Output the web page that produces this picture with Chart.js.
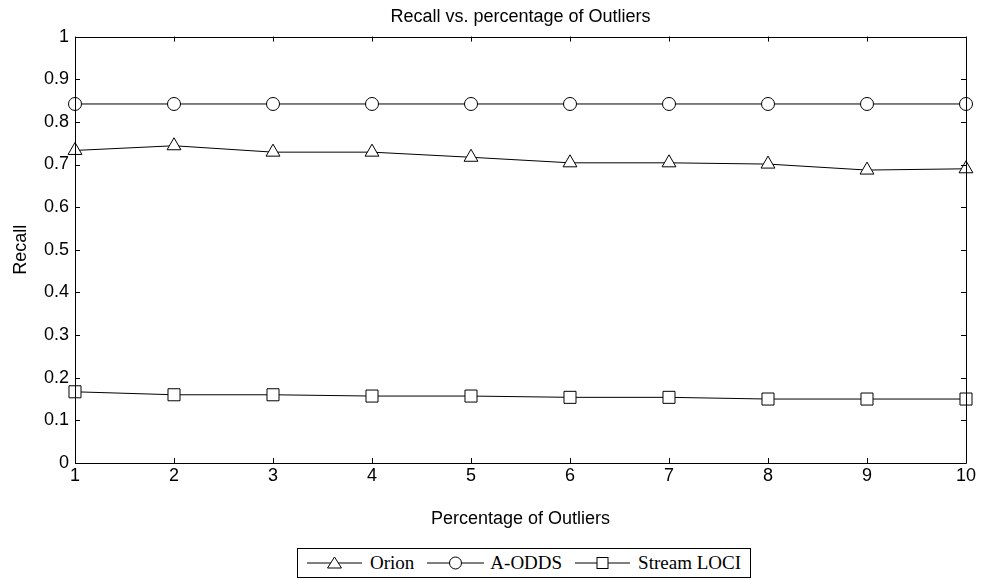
<!DOCTYPE html>
<html>
<head>
<meta charset="utf-8">
<script src="https://cdn.jsdelivr.net/npm/chart.js@4.4.0/dist/chart.umd.min.js"></script>
<style>
  html, body { margin: 0; padding: 0; background: #fff; }
  #wrap { position: relative; width: 981px; height: 581px; }
  #c { position: absolute; left: 0; top: 0; }
  #legend {
    position: absolute; left: 297px; top: 548px; height: 30px;
    border: 1px solid #000; box-sizing: border-box;
    display: flex; align-items: center; padding: 0 9px 0 9px;
    font-family: "Liberation Serif", "Times New Roman", serif; font-size: 19px; color: #000;
    background: #fff; white-space: nowrap;
  }
  #legend .item { display: flex; align-items: center; margin-right: 13px; }
  #legend .item:last-child { margin-right: 0; }
  #legend svg { margin-right: 8px; }
  #legend .item:nth-child(2) svg { margin-right: 6px; }
</style>
</head>
<body>
<div id="wrap">
  <canvas id="c" width="981" height="581"></canvas>
  <div id="legend"></div>
</div>
<script>
// ---- data ----
const xValues = [1, 2, 3, 4, 5, 6, 7, 8, 9, 10];
const orion = [0.733, 0.744, 0.729, 0.729, 0.717, 0.704, 0.704, 0.701, 0.687, 0.690];
const aOdds = [0.842, 0.842, 0.842, 0.842, 0.842, 0.842, 0.842, 0.842, 0.842, 0.842];
const streamLoci = [0.167, 0.160, 0.160, 0.157, 0.157, 0.154, 0.154, 0.150, 0.150, 0.150];
const seriesNames = ["Orion", "A-ODDS", "Stream LOCI"];
const yTicks = [0, 0.1, 0.2, 0.3, 0.4, 0.5, 0.6, 0.7, 0.8, 0.9, 1];
const chartTitle = "Recall vs. percentage of Outliers";
const xTitle = "Percentage of Outliers";
const yTitle = "Recall";

const sansFont = "'Liberation Sans', Arial, sans-serif";

function toPts(ys) { return xValues.map((x, i) => ({ x: x, y: ys[i] })); }

const markerStyles = ["triangle", "circle", "rect"];
const markerRadius = [8, 6.5, 8.5];
const allSeries = [orion, aOdds, streamLoci];

const datasets = allSeries.map((vals, i) => ({
  label: seriesNames[i],
  data: toPts(vals),
  borderColor: "#000",
  borderWidth: 1,
  backgroundColor: "#fff",
  pointStyle: markerStyles[i],
  pointRadius: markerRadius[i],
  pointHoverRadius: markerRadius[i],
  pointBorderColor: "#000",
  pointBackgroundColor: "#fff",
  pointBorderWidth: 1,
  tension: 0,
  fill: false,
  clip: false
}));

// inward tick marks + box, MATLAB style
const boxTicks = {
  id: "boxTicks",
  afterDatasetsDraw(chart) {
    const { ctx, chartArea: a, scales } = chart;
    const xs = scales.x, ys = scales.y;
    const L = 5;
    ctx.save();
    ctx.strokeStyle = "#000";
    ctx.lineWidth = 1;
    ctx.beginPath();
    xValues.forEach(v => {
      const px = Math.round(xs.getPixelForValue(v)) + 0.5;
      ctx.moveTo(px, a.bottom); ctx.lineTo(px, a.bottom - L);
      ctx.moveTo(px, a.top); ctx.lineTo(px, a.top + L);
    });
    yTicks.forEach(v => {
      const py = Math.round(ys.getPixelForValue(v)) + 0.5;
      ctx.moveTo(a.left, py); ctx.lineTo(a.left + L, py);
      ctx.moveTo(a.right, py); ctx.lineTo(a.right - L, py);
    });
    ctx.stroke();
    ctx.beginPath();
    ctx.rect(Math.round(a.left) + 0.5, Math.round(a.top) + 0.5,
             Math.round(a.right - a.left), Math.round(a.bottom - a.top));
    ctx.stroke();
    ctx.restore();
  }
};

new Chart(document.getElementById("c"), {
  type: "line",
  data: { datasets },
  plugins: [boxTicks],
  options: {
    responsive: false,
    animation: false,
    devicePixelRatio: 1,
    layout: { padding: { left: 0, right: 15, top: 0, bottom: 50 } },
    plugins: {
      legend: { display: false },
      tooltip: { enabled: false },
      title: {
        display: true,
        fullSize: false,
        text: chartTitle,
        color: "#000",
        font: { family: sansFont, size: 18, weight: "normal" },
        padding: { top: 6, bottom: 9 }
      }
    },
    scales: {
      x: {
        type: "linear",
        min: 1, max: 10,
        afterFit(s) { s.height = 68; },
        grid: { display: false, drawTicks: false },
        border: { display: false },
        ticks: {
          stepSize: 1, padding: 2, color: "#000",
          font: { family: sansFont, size: 18 },
          maxRotation: 0, autoSkip: false
        },
        title: {
          display: true, text: xTitle, color: "#000",
          font: { family: sansFont, size: 18 },
          padding: { top: 0, bottom: 1 }
        }
      },
      y: {
        type: "linear",
        min: 0, max: 1,
        afterFit(s) { s.width = 75; },
        afterBuildTicks(s) { s.ticks = yTicks.map(v => ({ value: v })); },
        grid: { display: false, drawTicks: false },
        border: { display: false },
        ticks: {
          padding: 6, color: "#000",
          font: { family: sansFont, size: 18 },
          callback: v => String(Math.round(v * 10) / 10)
        },
        title: {
          display: true, text: yTitle, color: "#000",
          font: { family: sansFont, size: 18 },
          padding: { top: 10, bottom: 0 }
        }
      }
    }
  }
});

// HTML legend with line+marker samples
function markerSvg(kind) {
  const w = kind === "circle" ? 57 : 55, h = 16, cx = w / 2, cy = h / 2;
  let m = "";
  if (kind === "triangle") m = `<polygon points="${cx},${cy-6} ${cx+7},${cy+5} ${cx-7},${cy+5}" fill="#fff" stroke="#000" stroke-width="1"/>`;
  else if (kind === "circle") m = `<circle cx="${cx}" cy="${cy}" r="6" fill="#fff" stroke="#000" stroke-width="1"/>`;
  else m = `<rect x="${cx-5.5}" y="${cy-5.5}" width="11" height="11" fill="#fff" stroke="#000" stroke-width="1"/>`;
  return `<svg width="${w}" height="${h}"><line x1="0" y1="${cy}" x2="${w}" y2="${cy}" stroke="#000" stroke-width="1"/>${m}</svg>`;
}
document.getElementById("legend").innerHTML = seriesNames.map((n, i) =>
  `<span class="item">${markerSvg(markerStyles[i])}<span>${n}</span></span>`).join("");
</script>
</body>
</html>
